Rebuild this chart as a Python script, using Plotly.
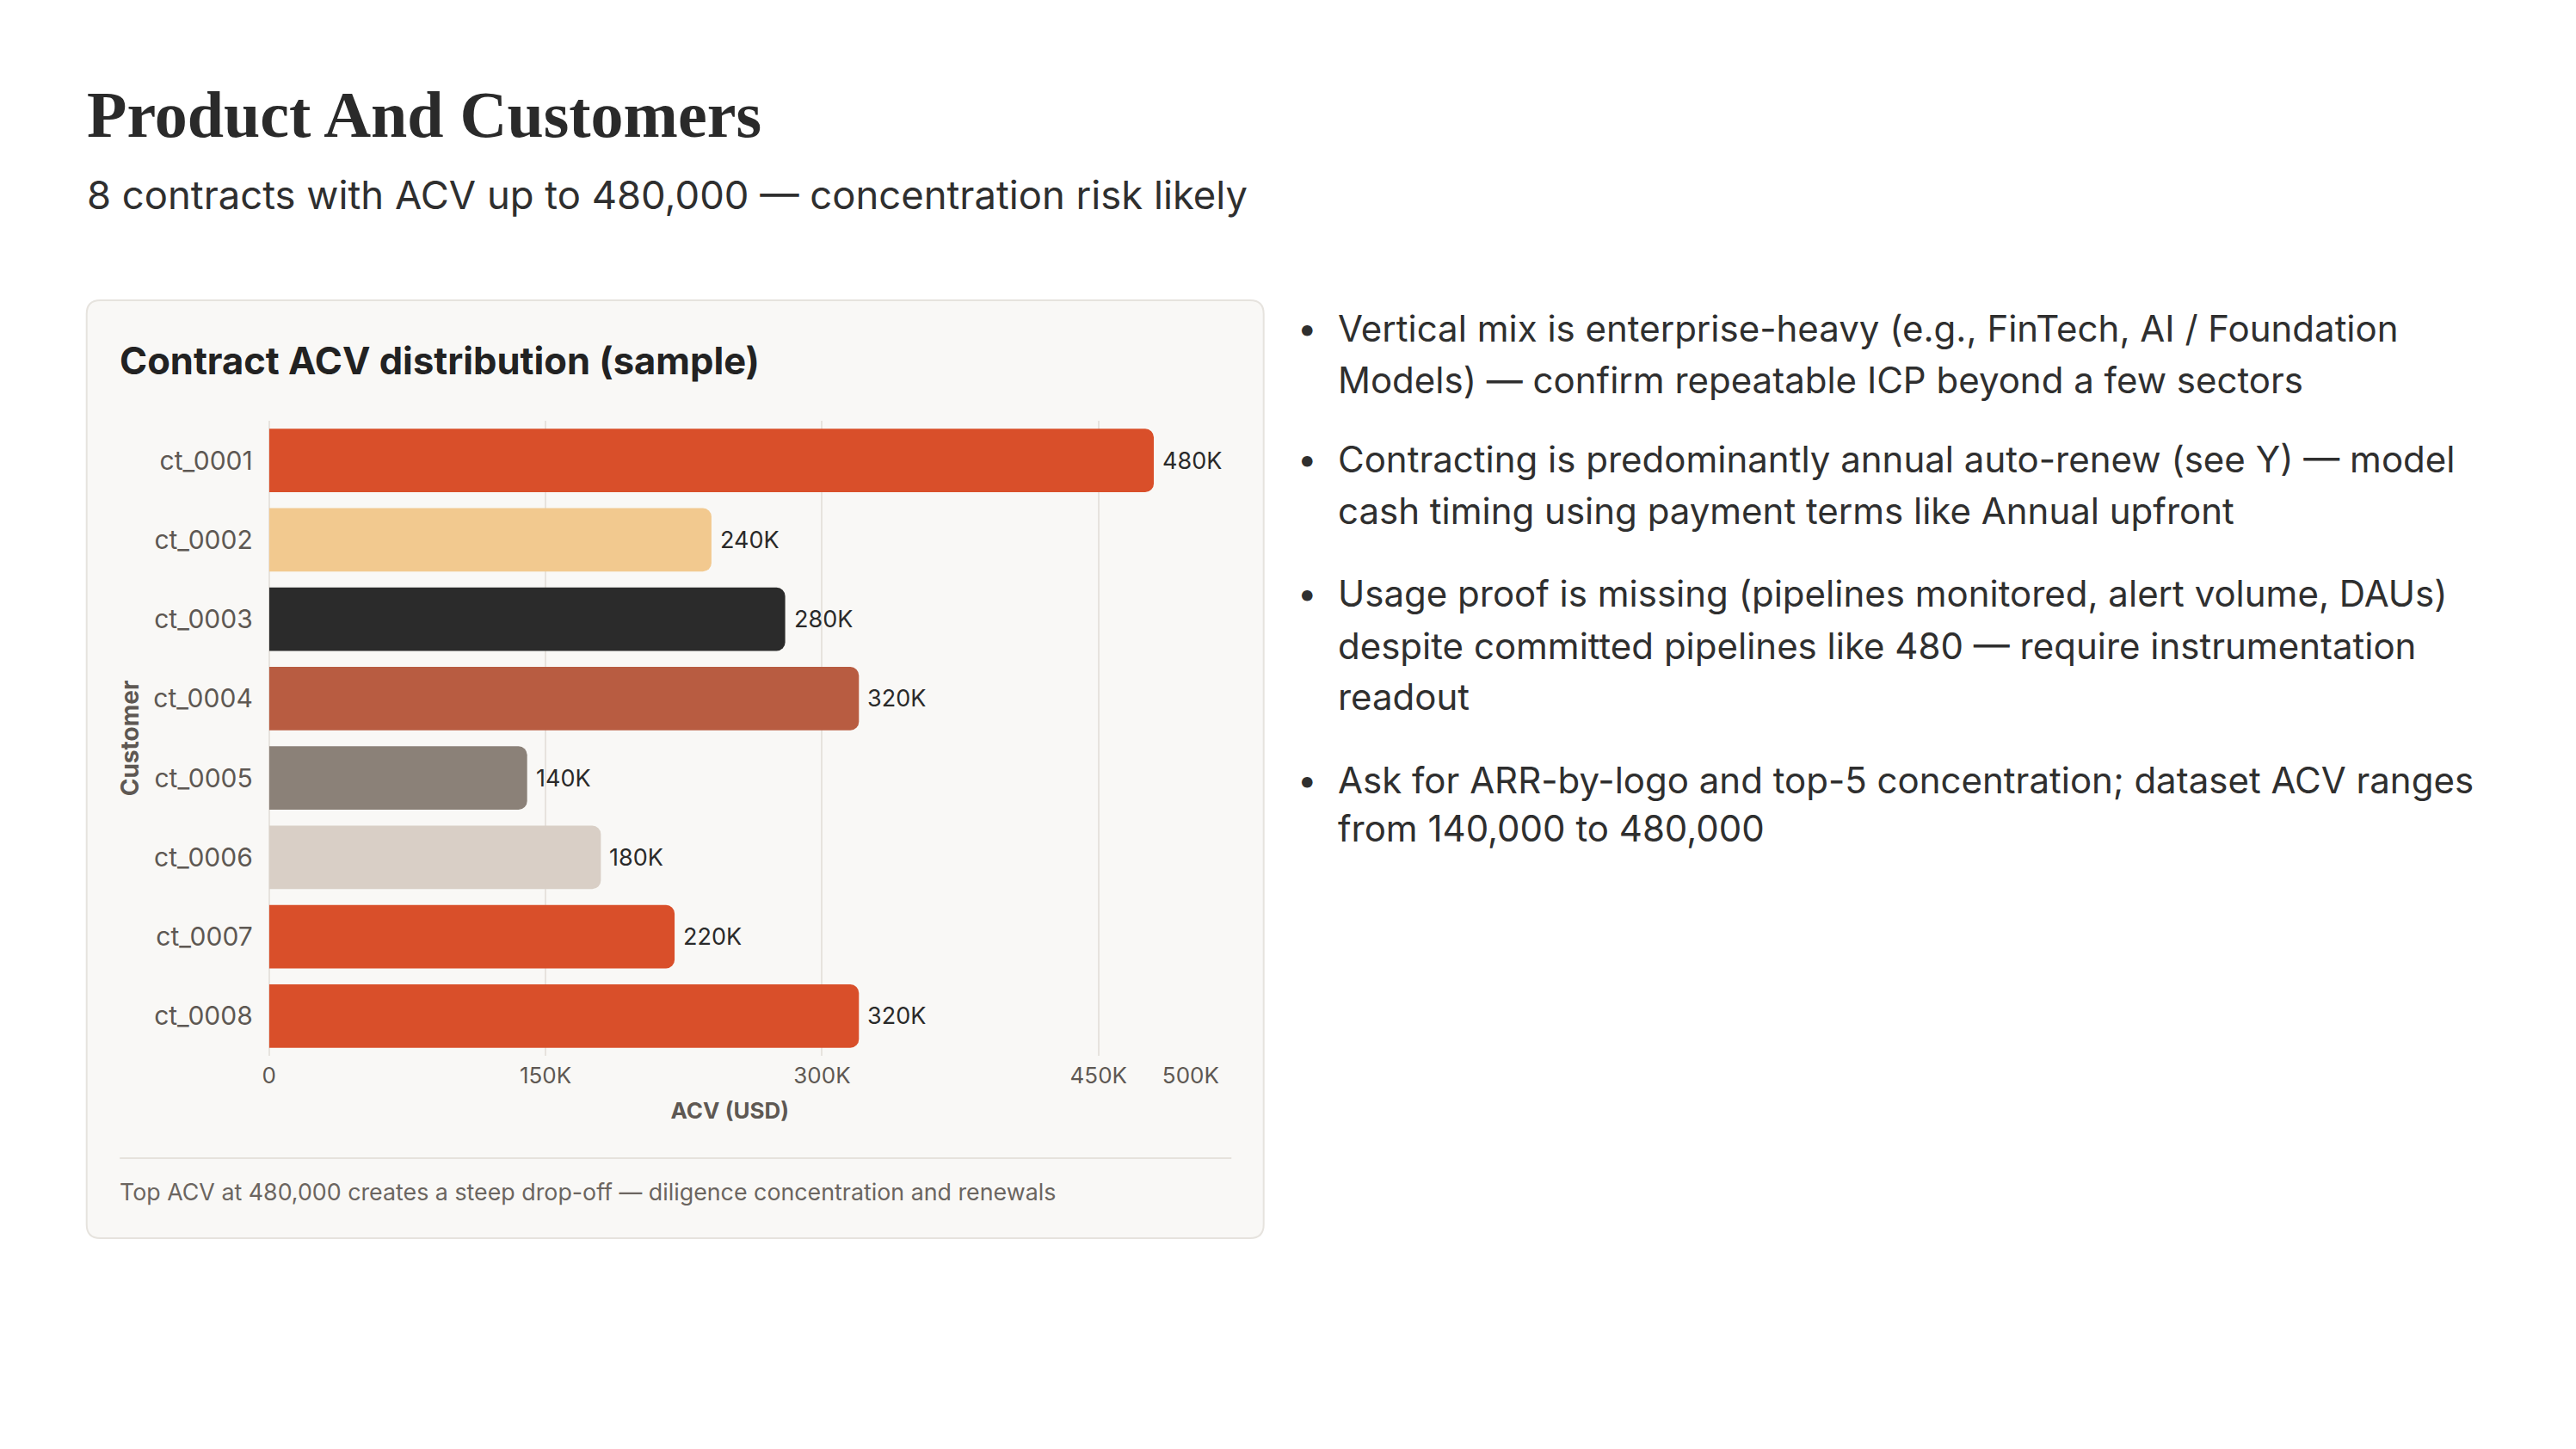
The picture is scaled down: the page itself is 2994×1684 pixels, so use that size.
import plotly.graph_objects as go

W, H = 2994, 1684

customers = ["ct_0001", "ct_0002", "ct_0003", "ct_0004", "ct_0005", "ct_0006", "ct_0007", "ct_0008"]
acv = [480000, 240000, 280000, 320000, 140000, 180000, 220000, 320000]
bar_colors = ["#D94F2A", "#F2C98F", "#2B2B2B", "#B85C41", "#8B8178", "#D9CFC6", "#D94F2A", "#D94F2A"]
x_tickvals = [0, 150000, 300000, 450000, 500000]
x_ticktext = ["0", "150K", "300K", "450K", "500K"]

title = "Product And Customers"
subtitle = "8 contracts with ACV up to 480,000 \u2014 concentration risk likely"
card_title = "Contract ACV distribution (sample)"
footnote = "Top ACV at 480,000 creates a steep drop-off \u2014 diligence concentration and renewals"
bullets = [
    ["Vertical mix is enterprise-heavy (e.g., FinTech, AI / Foundation",
     "Models) \u2014 confirm repeatable ICP beyond a few sectors"],
    ["Contracting is predominantly annual auto-renew (see Y) \u2014 model",
     "cash timing using payment terms like Annual upfront"],
    ["Usage proof is missing (pipelines monitored, alert volume, DAUs)",
     "despite committed pipelines like 480 \u2014 require instrumentation",
     "readout"],
    ["Ask for ARR-by-logo and top-5 concentration; dataset ACV ranges",
     "from 140,000 to 480,000"],
]
bullet_line_y = [[381, 441], [533, 593], [689, 750, 810], [907, 962]]

def px(x):
    return x / W

def py(y):
    return 1 - y / H

bar_text = [f"{v // 1000}K" for v in acv]

fig = go.Figure()
fig.add_trace(go.Bar(
    y=customers, x=acv, orientation="h",
    marker=dict(color=bar_colors, cornerradius=10, line=dict(width=0)),
    hoverinfo="skip",
))

for c, v, t in zip(customers, acv, bar_text):
    fig.add_annotation(x=v, y=c, xref="x", yref="y", text=t, showarrow=False,
                       xanchor="left", yanchor="middle", xshift=8,
                       font=dict(family="Inter", size=27, color="#2A2A2A"))

PL, PR, PT, PB = 309, 1395, 489, 1227

fig.update_layout(
    width=W, height=H,
    margin=dict(l=0, r=0, t=0, b=0),
    paper_bgcolor="#FFFFFF", plot_bgcolor="rgba(0,0,0,0)",
    showlegend=False, bargap=0.2,
    font=dict(family="Inter", color="#5E5853"),
    xaxis=dict(
        domain=[px(PL), px(PR)], range=[0, 500000],
        tickvals=x_tickvals, ticktext=x_ticktext,
        tickfont=dict(family="Inter", size=26, color="#5E5853"),
        showgrid=True, gridcolor="#E7E3DE", gridwidth=1.5,
        zeroline=True, zerolinecolor="#E7E3DE", zerolinewidth=1.5,
        showline=False, ticks="", ticklabelstandoff=5,
        title=dict(text="<b>ACV (USD)</b>", font=dict(family="Inter", size=26, color="#5E5853"), standoff=17),
        fixedrange=True,
    ),
    yaxis=dict(
        domain=[py(PB), py(PT)], autorange="reversed",
        tickfont=dict(family="Inter", size=30, color="#5E5853"),
        showgrid=False, zeroline=False, showline=False, ticks="",
        ticklabelstandoff=18,
        title=dict(text="<b>Customer</b>", font=dict(family="Inter", size=28, color="#5E5853"), standoff=8),
        fixedrange=True,
    ),
)

# card
cx0, cx1, cy0, cy1, r = 94, 1481, 349, 1439, 16
def rrect(x0, y0, x1, y1, r):
    pts = [
        f"M {px(x0 + r)},{py(y0)}",
        f"L {px(x1 - r)},{py(y0)}",
        f"Q {px(x1)},{py(y0)} {px(x1)},{py(y0 + r)}",
        f"L {px(x1)},{py(y1 - r)}",
        f"Q {px(x1)},{py(y1)} {px(x1 - r)},{py(y1)}",
        f"L {px(x0 + r)},{py(y1)}",
        f"Q {px(x0)},{py(y1)} {px(x0)},{py(y1 - r)}",
        f"L {px(x0)},{py(y0 + r)}",
        f"Q {px(x0)},{py(y0)} {px(x0 + r)},{py(y0)}",
        "Z",
    ]
    return " ".join(pts)

fig.add_shape(type="path", xref="paper", yref="paper", path=rrect(cx0, cy0, cx1, cy1, r),
              fillcolor="#F9F8F6", line=dict(color="#E6E3DE", width=2), layer="below")
fig.add_shape(type="line", xref="paper", yref="paper", x0=px(133), x1=px(1443), y0=py(1346), y1=py(1346),
              line=dict(color="#E6E2DC", width=2), layer="below")

def ann(text, x, y, size, color, family="Inter", xanchor="left", yanchor="middle"):
    fig.add_annotation(text=text, x=px(x), y=py(y), xref="paper", yref="paper",
                       xanchor=xanchor, yanchor=yanchor, showarrow=False, align="left",
                       font=dict(family=family, size=size, color=color))

ann(f"<b>{title}</b>", 92, 133, 76, "#2A2A2A", family="Liberation Serif")
ann(subtitle, 92, 226, 45.4, "#2F2F2F")
ann(f"<b>{card_title}</b>", 131, 419, 43.5, "#222222")
ann(footnote, 131, 1385, 26.8, "#6B6560")

for lines, ys in zip(bullets, bullet_line_y):
    ann("\u2022", 1519, ys[0], 40, "#2F2F2F")
    for t, yy in zip(lines, ys):
        ann(t, 1566, yy, 42, "#2F2F2F")

fig.write_html("out.html")
